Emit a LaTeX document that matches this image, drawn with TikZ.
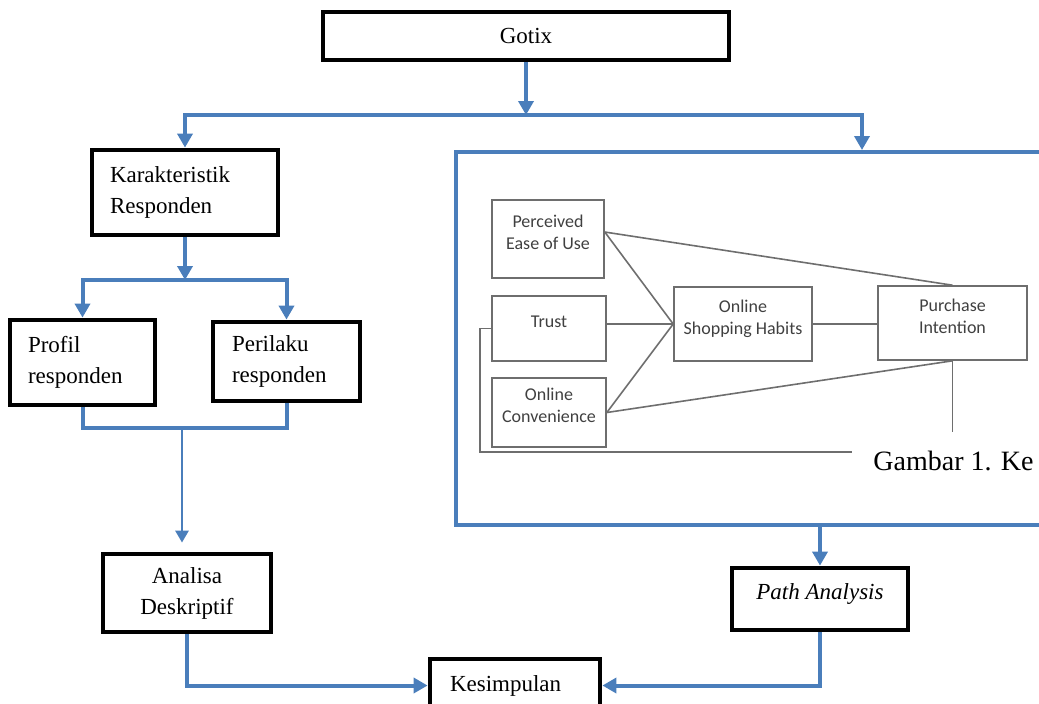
\documentclass[tikz,border=0pt]{standalone}
\usepackage{fontspec}
\setmainfont{Liberation Serif}
\newfontfamily\modelfont{Carlito}
\usetikzlibrary{arrows.meta}
\definecolor{flowblue}{RGB}{74,126,187}
\definecolor{modelgray}{RGB}{110,110,110}
\newcommand{\liftup}[1]{\raisebox{2.5pt}[\height][\depth]{\begin{tabular}{@{}c@{}}#1\end{tabular}}}

\begin{document}
\begin{tikzpicture}[x=0.5pt, y=-0.5pt,
	box/.style={draw, line width=2.4pt, inner sep=0pt, font=\fontsize{11.5}{15.5}\selectfont},
	frame/.style={draw=flowblue, line width=2pt, inner sep=0pt},
	var/.style={draw=modelgray, line width=0.8pt, inner sep=0pt, text=black!75, font=\modelfont\fontsize{9}{11}\selectfont},
	link/.style={draw=flowblue, line width=2pt},
	flowarrow/.style={link, -{Triangle[width=7.5pt,length=7pt]}},
	thinarrow/.style={draw=flowblue, line width=1.4pt, -{Triangle[width=6.5pt,length=6pt]}},
	rel/.style={draw=modelgray, line width=0.8pt}]

	\useasboundingbox (0,0) rectangle (1039,703);
	\clip (0,0) rectangle (1039,703);

	\node[box, minimum width=203pt, minimum height=24pt]							(gotix)	at (526,36)		{Gotix};
	\node[box, minimum width=93pt, minimum height=42.5pt, text width=75pt, align=left]		(kar)	at (185,192.5)	{Karakteristik\\Responden};
	\node[box, minimum width=72.5pt, minimum height=42.5pt, text width=54.5pt, align=left]	(prof)	at (82.5,362.5)	{Profil\\responden};
	\node[box, minimum width=73.5pt, minimum height=39.5pt, text width=54.5pt, align=left]	(peril)	at (286.5,361.5)	{Perilaku\\responden};
	\node[box, minimum width=84pt, minimum height=39pt, align=center]				(anal)	at (187,593)		{Analisa\\Deskriptif};
	\node[box, minimum width=88pt, minimum height=31pt, text height=8pt, text depth=8pt]	(pa)		at (820,599)		{\itshape Path Analysis};
	\node[box, minimum width=85pt, minimum height=26.5pt, text width=65pt, align=left]		(kes)	at (515,685.5)	{Kesimpulan};

	\node[frame, minimum width=312pt, minimum height=186.5pt]	(model)	at (768,338.5)	{};

	\node[var, minimum width=56pt, minimum height=39pt]		(peou)	at (548,239)		{\liftup{Perceived\\Ease of Use}};
	\node[var, minimum width=57pt, minimum height=32.5pt]		(trust)	at (549,328.5)	{\liftup{Trust}};
	\node[var, minimum width=57pt, minimum height=34.5pt]		(conv)	at (549,412.5)	{\liftup{Online\\Convenience}};
	\node[var, minimum width=69pt, minimum height=37pt]		(osh)	at (743,324)		{\liftup{Online\\Shopping Habits}};
	\node[var, minimum width=74.5pt, minimum height=37pt]		(pint)	at (952.5,323)	{\liftup{Purchase\\Intention}};
	\node[inner sep=0pt, anchor=base west, font=\fontsize{14}{16}\selectfont]	(gbr)	at (873,470)		{Gambar 1. Ke};

	\coordinate (split)	at (526,115);
	\coordinate (fork)	at (185,280);
	\coordinate (merge)	at (182,428);
	\coordinate (pend)	at (952.5,432);
	\coordinate (lend)	at (852,452);

	\draw[flowarrow]	(gotix.south) -- (split);
	\draw[flowarrow]	(split) -| (kar.north);
	\draw[flowarrow]	(split) -| (model.north -| 862,0);
	\draw[flowarrow]	(kar.south) -- (fork);
	\draw[flowarrow]	(fork) -| (prof.north);
	\draw[flowarrow]	(fork) -| (peril.north);
	\draw[link]		(prof.south) |- (merge) -| (peril.south);
	\draw[thinarrow, shorten >=4.5pt]	(merge) -- (merge |- anal.north);
	\draw[flowarrow]	(anal.south) |- (kes.west);
	\draw[flowarrow]	(model.south -| pa.north) -- (pa.north);
	\draw[flowarrow]	(pa.south) |- (kes.east);

	\path[rel]
	(peou.7)	edge	(osh.west)
			edge	(pint.north)
	(trust.east |- osh.west)	edge	(osh.west)
	(conv.east)	edge	(osh.west)
			edge	(pint.south)
	(osh.east)	edge	(osh.east -| pint.west)
	(pint.south)	edge	(pend);
	\draw[rel]	(trust.west) -- ++(-11,0) |- (lend);
\end{tikzpicture}
\end{document}
